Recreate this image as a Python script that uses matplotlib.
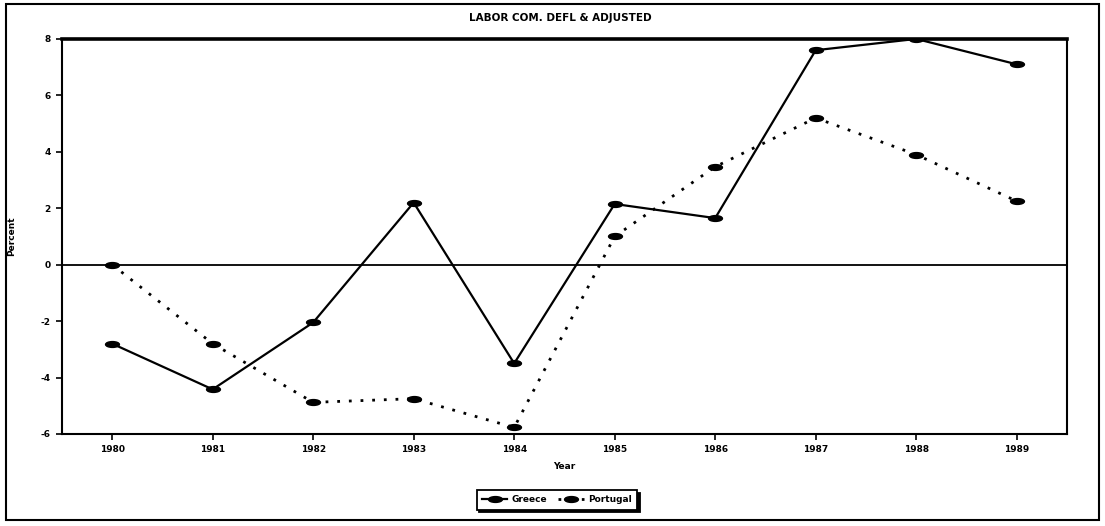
import matplotlib
matplotlib.use("Agg")
import matplotlib.pyplot as plt
from matplotlib.path import Path
from matplotlib.patches import Rectangle
import numpy as np

# data
years = [1980, 1981, 1982, 1983, 1984, 1985, 1986, 1987, 1988, 1989]
greece = [-2.8, -4.42, -2.05, 2.2, -3.5, 2.15, 1.65, 7.6, 8.0, 7.1]
portugal = [0.0, -2.8, -4.88, -4.75, -5.77, 1.0, 3.47, 5.2, 3.9, 2.25]
y_ticks = [-6, -4, -2, 0, 2, 4, 6, 8]
title = "LABOR COM. DEFL & ADJUSTED"

# flat blob marker like the old plotter's dash marks
circ = Path.unit_circle()
flat = Path(circ.vertices * np.array([1.0, 0.42]), circ.codes)

fig = plt.figure(figsize=(11.05, 5.26), dpi=100)
ax = fig.add_axes([0.056, 0.175, 0.9096, 0.751])

ax.plot(years, greece, color="black", lw=1.6, marker=flat, markersize=10,
        label="Greece")
ax.plot(years, portugal, color="black", lw=2.0, linestyle=(0, (1, 3.2)),
        marker=flat, markersize=10, label="Portugal")
ax.axhline(0, color="black", lw=1.3)

ax.set_xlim(1979.5, 1989.5)
ax.set_ylim(-6, 8)
ax.set_xticks(years)
ax.set_xticklabels([str(y) for y in years], fontsize=6.5, fontweight="bold")
ax.set_yticks(y_ticks)
ax.set_yticklabels([str(v) for v in y_ticks], fontsize=6.5, fontweight="bold")
ax.tick_params(direction="out", length=4, width=1.2, pad=4)

for s in ["left", "right", "bottom"]:
    ax.spines[s].set_linewidth(1.5)
ax.spines["top"].set_linewidth(2.6)

ax.set_xlabel("Year", fontsize=6.5, fontweight="bold", labelpad=6)
ax.set_ylabel("Percent", fontsize=6.5, fontweight="bold", labelpad=18)
fig.text(0.507, 0.966, title, ha="center", va="center", fontsize=7.5,
         fontweight="bold")

leg = fig.legend(loc="center", bbox_to_anchor=(0.504, 0.05), ncol=2,
                 fontsize=6.5, frameon=True, fancybox=False, handlelength=2.8,
                 columnspacing=1.2, handletextpad=0.5, borderpad=0.6,
                 shadow={"color": "black", "alpha": 1.0})
leg.get_frame().set_edgecolor("black")
leg.get_frame().set_linewidth(1.3)
for t in leg.get_texts():
    t.set_fontweight("bold")

# outer frame around the whole page
fig.patches.append(Rectangle((0.005, 0.012), 0.99, 0.98, transform=fig.transFigure,
                             fill=False, edgecolor="black", lw=1.5))

fig.savefig("out.png", dpi=100)
